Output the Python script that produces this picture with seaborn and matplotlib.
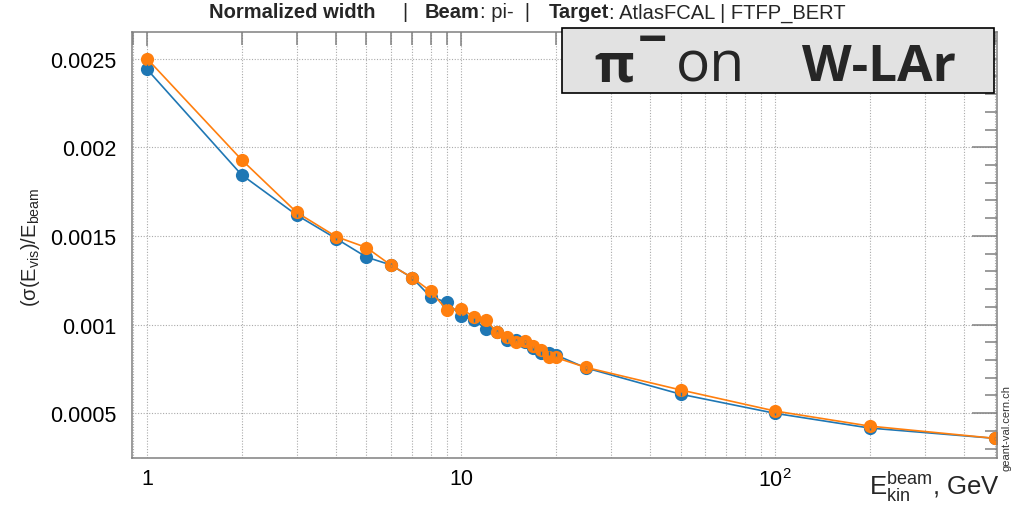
import numpy as np
import pandas as pd
import matplotlib
matplotlib.use("Agg")
import matplotlib.pyplot as plt
import matplotlib.ticker as mticker
from matplotlib.patches import Rectangle
import seaborn as sns

# Beam kinetic energies (GeV)
energy = [1, 2, 3, 4, 5, 6, 7, 8, 9, 10, 11, 12, 13, 14, 15, 16, 17, 18, 19, 20,
          25, 50, 100, 200, 500]

# Normalized width sigma(E_vis)/E_beam for the two compared releases
width_ref = [0.00244, 0.001845, 0.001617, 0.001485, 0.00138, 0.001335, 0.001262,
             0.001156, 0.001126, 0.00105, 0.001024, 0.000977, 0.00096, 0.000914,
             0.00091, 0.000902, 0.000867, 0.000838, 0.000839, 0.000829, 0.000755,
             0.000607, 0.000499, 0.000416, 0.000358]
width_new = [0.0025, 0.00193, 0.001632, 0.001496, 0.001434, 0.001333, 0.001264,
             0.001188, 0.001084, 0.001088, 0.001044, 0.001026, 0.000956, 0.000927,
             0.0009, 0.000905, 0.000876, 0.000858, 0.000814, 0.000814, 0.000758,
             0.000631, 0.000512, 0.000427, 0.000358]
err_ref = [0.00003, 0.00002] + [0.00001] * 23
err_new = [0.00003, 0.00002] + [0.00001] * 23

series_names = ["ref", "new"]
series_colors = ["#1f77b4", "#ff7f0e"]

x_ticks = [1, 10, 100]
x_ticklabels = ["1", "10", "$10^2$"]
y_ticks = [0.0005, 0.001, 0.0015, 0.002, 0.0025]
y_ticklabels = ["0.0005", "0.001", "0.0015", "0.002", "0.0025"]

sns.set_theme(style="white")
plt.rcParams["font.family"] = ["Liberation Sans", "DejaVu Sans"]
plt.rcParams["mathtext.fontset"] = "custom"
plt.rcParams["mathtext.rm"] = "Liberation Sans"
plt.rcParams["mathtext.it"] = "Liberation Sans"
plt.rcParams["mathtext.bf"] = "Liberation Sans:bold"
plt.rcParams["mathtext.default"] = "regular"

df = pd.DataFrame({
    "energy": energy * 2,
    "width": width_ref + width_new,
    "series": [series_names[0]] * len(energy) + [series_names[1]] * len(energy),
})

W, H = 1012, 506
fig = plt.figure(figsize=(W / 100, H / 100), dpi=100)
ax = fig.add_axes([132 / W, 1 - 459 / H, (997 - 132) / W, (459 - 33) / H])

sns.lineplot(data=df, x="energy", y="width", hue="series", palette=series_colors,
             marker="o", markersize=9.5, markeredgewidth=0, linewidth=1.2,
             legend=False, ax=ax, errorbar=None, sort=True)
for vals, errs, c in [(width_ref, err_ref, series_colors[0]),
                      (width_new, err_new, series_colors[1])]:
    ax.errorbar(energy, vals, yerr=errs, fmt="none", ecolor=c, elinewidth=1.0,
                capsize=0, zorder=3)

ax.set_xscale("log")
ax.set_xlim(0.896, 509)
ax.set_ylim(0.000247, 0.00265)

ax.xaxis.set_major_locator(mticker.FixedLocator(x_ticks))
ax.xaxis.set_major_formatter(mticker.FixedFormatter(x_ticklabels))
ax.xaxis.set_minor_locator(mticker.LogLocator(base=10, subs=np.arange(2, 10)))
ax.xaxis.set_minor_formatter(mticker.NullFormatter())
ax.yaxis.set_major_locator(mticker.FixedLocator(y_ticks))
ax.yaxis.set_major_formatter(mticker.FixedFormatter(y_ticklabels))
ax.yaxis.set_minor_locator(mticker.MultipleLocator(0.0001))

spine_c = "#808080"
for s in ax.spines.values():
    s.set_color(spine_c)
    s.set_linewidth(1.1)

ax.tick_params(axis="both", which="both", direction="in", colors=spine_c,
               top=True, right=True, labelcolor="black", labelsize=15.5)
ax.tick_params(axis="y", which="major", length=18, width=1.1, pad=11)
ax.tick_params(axis="y", which="minor", length=9, width=1.1)
ax.tick_params(axis="x", which="major", length=10, width=1.1, pad=7)
ax.tick_params(axis="x", which="minor", length=9, width=1.1)

ax.grid(True, axis="x", which="both", linestyle=(0, (1, 1.5)), color="#aaaaaa",
        linewidth=0.8)
ax.grid(True, axis="y", which="major", linestyle=(0, (1, 1.5)), color="#aaaaaa",
        linewidth=0.8)
ax.set_axisbelow(True)

ax.set_xlabel("")
ax.set_ylabel("")

# axis titles
fig.text(1000 / W, 1 - 487 / H, r"$E_{kin}^{beam}$, GeV", ha="right",
         va="center", fontsize=18.5)
fig.text(31 / W, 1 - 247 / H, r"$(\sigma(E_{vis})/E_{beam}$", rotation=90,
         ha="center", va="center", fontsize=14.5)

# header line: bold keyword anchored at a fixed left edge (px),
# regular continuation placed right after it
header_groups = [("Normalized width", "", 209),
                 ("", "|", 402),
                 ("Beam", ": pi-  |", 425),
                 ("Target", ": AtlasFCAL | FTFP_BERT", 549)]
header_size = 14.5
header_y = 1 - 13 / H
fig.canvas.draw()
renderer = fig.canvas.get_renderer()
for bold_part, plain_part, left_px in header_groups:
    x_px = left_px
    if bold_part:
        t = fig.text(x_px / W, header_y, bold_part, fontweight="bold",
                     fontsize=header_size, ha="left", va="center")
        x_px += t.get_window_extent(renderer).width
    if plain_part:
        fig.text(x_px / W, header_y, plain_part, fontsize=header_size,
                 ha="left", va="center")

# species label box
box_font = ["Open Sans", "DejaVu Sans"]
fig.add_artist(Rectangle((562 / W, 1 - 94 / H), (994 - 562) / W, (94 - 29) / H,
                         transform=fig.transFigure, facecolor="#e2e2e2",
                         edgecolor="black", linewidth=1.2, zorder=5))
fig.text(594 / W, 1 - 81 / H, "π", family=box_font,
         fontweight="bold", fontsize=39, ha="left", va="baseline", zorder=6)
fig.text(638 / W, 1 - 56 / H, "−", family=box_font,
         fontweight="bold", fontsize=37, ha="left", va="baseline", zorder=6)
fig.text(676 / W, 1 - 81 / H, "on", family=box_font,
         fontsize=41, ha="left", va="baseline", zorder=6)
fig.text(802 / W, 1 - 81 / H, "W-LAr", family=box_font,
         fontweight="bold", fontsize=37, ha="left", va="baseline", zorder=6)

# source tag on the right edge
fig.text(1007 / W, 1 - 385 / H, "geant-val.cern.ch", rotation=90, ha="center",
         va="top", fontsize=8, color="#333333")

fig.savefig("out.png", dpi=100)
